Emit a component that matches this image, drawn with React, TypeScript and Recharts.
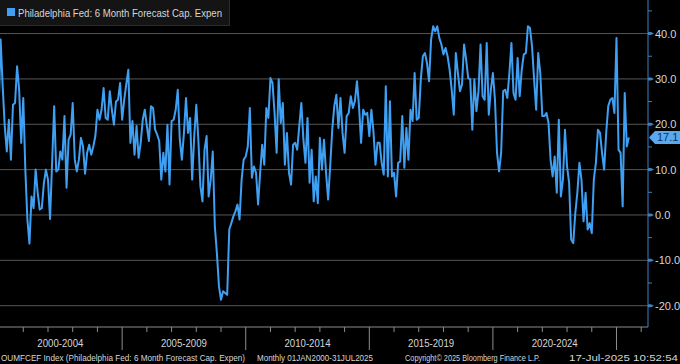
import { LineChart, Line, XAxis, YAxis, CartesianGrid, ReferenceLine } from "recharts"

// monthly readings, Jan of first year .. Dec of last year
const values2000_2004 = [
  22.9, 38.7, 28.4, 19.6, 14, 21, 12.2, 24.3, 24.7, 32.8, 27.6, 15.9,
  25.8, 10, -1, -6.3, 4.1, 1.5, 10, 4.9, 1.2, 1.5, 7, 10,
  7.8, -0.9, 11.5, 24, 9.6, 10, 14, 12.2, 21.8, 6, 16.6, 17.7,
  24.7, 12.2, 9.6, 12.2, 17, 15.1, 9.1, 13.7, 15.5, 13.3, 15.1, 17.4,
  23.2, 21, 23.2, 28, 21.4, 21, 27.3, 23.2, 19.9, 25, 25.4, 29.1,
]
const values2005_2009 = [
  21, 25.4, 28.8, 32, 15.9, 20.7, 13.3, 19.6, 12.6, 15.9, 21, 23.2,
  19.6, 16.3, 24, 23.6, 18.8, 17.7, 16.3, 7.8, 13.7, 9.6, 19.9, 6.7,
  20.7, 21, 23.2, 27.6, 16.6, 12.2, 18.1, 25.8, 18.1, 21.4, 7.8, 17.4,
  24.3, 16.6, 6.3, 3, 14.4, 17.4, 4.1, 7.8, 14, -2.5, -8.4, -15.7,
  -18.7, -16.8, -17.2, -17.6, -3.2, -1.8, -0.3, 0.8, 2.3, -1, 7.8, 12.2,
]
const values2010_2014 = [
  12.9, 15.1, 23.6, 8.2, 10.7, 9.3, 2.3, 9.3, 15.5, 11.1, 23.6, 21.4,
  30.2, 29.1, 22.5, 13.7, 29.9, 20.3, 24.7, 11.1, 18.1, 9.3, 6.7, 15.5,
  15.9, 14.4, 19.6, 24.7, 16.6, 11.5, 21.4, 7.1, 14.4, 3, 8.5, 2.6,
  17, 10, 16.6, 9.3, 3.4, 10.7, 18.8, 24, 26.5, 19.2, 25.8, 18.1,
  13.7, 21.8, 22.5, 26.2, 23.6, 25.1, 29.5, 24, 15.9, 23.2, 22.1, 22.5,
]
const values2015_2019 = [
  17.4, 23.2, 18.5, 11.1, 15.9, 15.9, 11.5, 8.9, 28.4, 8.5, 25.1, 8.5,
  9.3, 4.1, 11.5, 11.8, 21.8, 10.4, 19.2, 12.2, 23.2, 20.7, 31.3, 21,
  21.4, 29.9, 35, 35.7, 33.5, 29.5, 38.7, 41.6, 40.5, 41.6, 39, 37.6,
  35.4, 36.8, 35, 32, 27.6, 22.1, 35.7, 31.3, 27.3, 28.8, 37.6, 34.3,
  30.2, 29.9, 18.8, 29.9, 22.9, 27.3, 37.6, 26.2, 25.4, 37.9, 22.1, 27.6,
]
const values2020_2024 = [
  31.3, 25.4, 13.7, 9.6, 13.7, 27.3, 27.6, 25.8, 31.3, 37.9, 26.9, 25.4,
  34.6, 26.2, 32, 35.4, 35.7, 41.6, 41.2, 37.2, 29.9, 23.2, 35.7, 31.3,
  21.8, 21.8, 22.5, 20.3, 12.2, 8.5, 12.9, 4.9, 21, 4.1, 7.8, 18.8,
  10.7, 7.1, -5.4, -6.2, 0.4, 4.9, 11.5, 7.8, -1.4, 4.9, -3.2, -1.8,
  -4, 7.8, 11.5, 18.8, 18.1, 13.7, 10, 18.1, 24, 25.4, 25.8, 22.5,
]
const values2025 = [39, 14.4, 13.7, 1.9, 26.9, 15.1, 17.1]

const periodLabels = ["2000-2004", "2005-2009", "2010-2014", "2015-2019", "2020-2024"]
const yTicks = [-20, -15, -10, -5, 0, 5, 10, 15, 20, 25, 30, 35, 40, 45]
const gridValues = [-20, -10, 0, 10, 20, 30, 40]
const lastValue = 17.1
const seriesName = "Philadelphia Fed: 6 Month Forecast Cap. Expen"
const footer = [
  "OUMFCEF Index (Philadelphia Fed: 6 Month Forecast Cap. Expen)",
  "Monthly 01JAN2000-31JUL2025",
  "Copyright\u00a9 2025 Bloomberg Finance L.P.",
  "17-Jul-2025 10:52:54",
]

const allValues = [
  ...values2000_2004,
  ...values2005_2009,
  ...values2010_2014,
  ...values2015_2019,
  ...values2020_2024,
  ...values2025,
]
const data = allValues.map((v, i) => ({ m: i, value: v }))

// yearly ticks (Jan 2001 .. Jan 2026) plus the middle of each 5-year block for its label
const yearTicks = Array.from({ length: 26 }, (_, i) => 12 * (i + 1))
const labelTicks = periodLabels.map((_, i) => 30 + 60 * i)
const xTicks = [...yearTicks, ...labelTicks].sort((a, b) => a - b)

const LINE = "#3f9ff2"
const AXIS_BLUE = "#3b82c4"
const TEXT = "#d6d6d6"
const FONT = "'Liberation Sans', Arial, sans-serif"

function XTick(props: any) {
  const { x, y, payload } = props
  const m = payload.value
  if (m % 12 === 0) {
    const major = m % 60 === 0
    return <line x1={x} x2={x} y1={y} y2={y + (major ? 23 : 5)} stroke="#8c8c8c" strokeWidth={1} />
  }
  const label = periodLabels[(m - 30) / 60]
  return (
    <text x={x} y={y + 20} textAnchor="middle" fill={TEXT} fontSize={11} fontFamily={FONT} textLength={46} lengthAdjust="spacingAndGlyphs">
      {label}
    </text>
  )
}

function YTick(props: any) {
  const { x, y, payload } = props
  const v = payload.value
  if (v % 10 !== 0) {
    return <line x1={x} x2={x + 4} y1={y} y2={y} stroke={AXIS_BLUE} strokeWidth={1} />
  }
  return (
    <g>
      <path d={`M${x} ${y - 1.5}L${x + 3} ${y - 1.5}L${x + 6} ${y}L${x + 3} ${y + 1.5}L${x} ${y + 1.5}Z`} fill={AXIS_BLUE} />
      <text x={x + 7} y={y + 4} fill={TEXT} fontSize={11} fontFamily={FONT}>
        {v.toFixed(1)}
      </text>
    </g>
  )
}

function LastTag(props: any) {
  const { viewBox } = props
  if (!viewBox) return null
  const x = viewBox.x + viewBox.width + 1
  const y = viewBox.y
  return (
    <g>
      <path d={`M${x} ${y}L${x + 6} ${y - 6.5}L680 ${y - 6.5}L680 ${y + 6.5}L${x + 6} ${y + 6.5}Z`} fill="#5aa9ee" />
      <text x={x + 8} y={y + 4} fill="#0c2f5c" fontSize={11} fontFamily={FONT}>
        {lastValue.toFixed(1)}
      </text>
    </g>
  )
}

export default function App() {
  return (
    <div style={{ position: "fixed", left: 0, top: 0, width: 680, height: 364, background: "#000", overflow: "hidden" }}>
      <LineChart width={680} height={364} data={data} margin={{ top: 0, right: 0, bottom: 0, left: 0 }}>
        <CartesianGrid horizontal vertical={false} horizontalValues={gridValues} stroke="#565656" strokeWidth={1} />
        <XAxis
          dataKey="m"
          type="number"
          domain={[0.7, 315.3]}
          allowDataOverflow
          ticks={xTicks}
          interval={0}
          height={37}
          tickSize={0}
          tickMargin={0}
          axisLine={{ stroke: "#8c8c8c" }}
          tick={<XTick />}
        />
        <YAxis
          orientation="right"
          width={32}
          type="number"
          domain={[-24.7, 47.4]}
          allowDataOverflow
          ticks={yTicks}
          interval={0}
          tickSize={0}
          tickMargin={0}
          axisLine={{ stroke: AXIS_BLUE }}
          tick={<YTick />}
        />
        <ReferenceLine y={lastValue} stroke="none" ifOverflow="visible" label={<LastTag />} />
        <Line
          type="linear"
          dataKey="value"
          stroke={LINE}
          strokeWidth={2}
          dot={false}
          strokeLinejoin="round"
          isAnimationActive={false}
        />
      </LineChart>

      <div style={{ position: "absolute", left: 0, top: 0, width: 229, height: 25, background: "#141414", borderRight: "1px solid #2c2c2c", borderBottom: "1px solid #2c2c2c" }}>
        <svg width={229} height={25} style={{ display: "block" }}>
          <rect x={7} y={8} width={8} height={8} fill={LINE} />
          <text x={18} y={16.5} fill={TEXT} fontSize={11} fontFamily={FONT} textLength={204} lengthAdjust="spacingAndGlyphs">
            {seriesName}
          </text>
        </svg>
      </div>

      <svg width={680} height={14} style={{ position: "absolute", left: 0, top: 350, display: "block" }}>
        <text x={1} y={10.5} fill={TEXT} fontSize={9} fontFamily={FONT} textLength={244} lengthAdjust="spacingAndGlyphs">{footer[0]}</text>
        <text x={257} y={10.5} fill={TEXT} fontSize={9} fontFamily={FONT} textLength={116} lengthAdjust="spacingAndGlyphs">{footer[1]}</text>
        <text x={405} y={10.5} fill={TEXT} fontSize={9} fontFamily={FONT} textLength={135} lengthAdjust="spacingAndGlyphs">{footer[2]}</text>
        <text x={569} y={10.5} fill={TEXT} fontSize={9} fontFamily={FONT} textLength={109} lengthAdjust="spacingAndGlyphs">{footer[3]}</text>
      </svg>
    </div>
  )
}
